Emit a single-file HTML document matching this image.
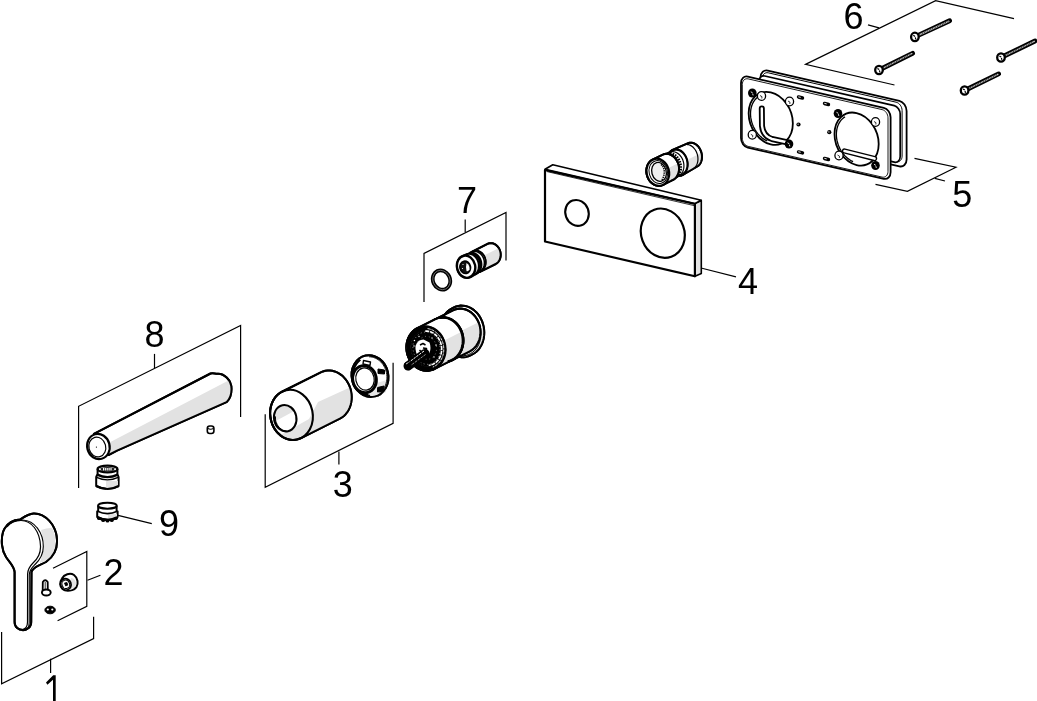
<!DOCTYPE html>
<html><head><meta charset="utf-8">
<style>
html,body{margin:0;padding:0;background:#fff;}
svg{display:block;}
text{font-family:"Liberation Sans",sans-serif;font-size:36px;fill:#000;}
</style></head>
<body>
<svg width="1037" height="701" viewBox="0 0 1037 701">
<rect width="1037" height="701" fill="#fff"/>
<g fill="none" stroke="#000" stroke-width="1.2" stroke-linecap="butt" stroke-linejoin="miter">
<polyline points="1014,18.6 935.6,0.7 805.5,64.4 894.5,85"/>
<line x1="868" y1="24.8" x2="879" y2="27.8"/>
<polyline points="914.5,158.3 956,167.2 907.4,191.3 875.5,184.3"/>
<line x1="934.8" y1="178.3" x2="945" y2="181"/>
<line x1="701" y1="268" x2="736" y2="276.8"/>
<polyline points="424,302 424,253.4 506,212.5 506,260.5"/>
<line x1="465.2" y1="219.4" x2="465.2" y2="232"/>
<polyline points="78.6,488 78.6,406.3 240.6,325.4 240.6,417"/>
<line x1="154.5" y1="353.9" x2="154.5" y2="368.2"/>
<polyline points="265.2,414.2 265.2,487.3 393.1,423.3 393.1,362.8"/>
<line x1="338.9" y1="451.5" x2="338.9" y2="464.6"/>
<line x1="116" y1="514.8" x2="151.8" y2="523.6"/>
<polyline points="53,568.3 86.8,551.4 86.8,606.4 57.6,620.8"/>
<line x1="87.5" y1="580.3" x2="100.4" y2="575.2"/>
<polyline points="1.6,632 1.6,683.8 93.6,638.6 93.6,616.8"/>
<line x1="50.6" y1="658.8" x2="50.6" y2="673"/>
</g>
<g style="will-change:transform">
<text x="843.5" y="28.5">6</text>
<text x="952.2" y="207">5</text>
<text x="738" y="293.5">4</text>
<text x="457" y="212.5">7</text>
<text x="144.4" y="346.8">8</text>
<text x="332.7" y="496.8">3</text>
<text x="159.1" y="536.3">9</text>
<text x="103.5" y="584.5">2</text>
</g>
<path d="M53,701 L53,679.8 L47.4,684.8 L46,682.4 L53.2,675.3 L55.7,675.3 L55.7,701 Z" fill="#000"/>
<line x1="914.9" y1="36.9" x2="949.6" y2="20.8" stroke="#000" stroke-width="4.8" stroke-linecap="round"/><line x1="917.4" y1="35.699999999999996" x2="948.8000000000001" y2="21.2" stroke="#c8c8c8" stroke-width="1.5" stroke-linecap="round"/><line x1="917.4" y1="35.699999999999996" x2="948.8000000000001" y2="21.2" stroke="#222" stroke-width="1.5" stroke-dasharray="0.8 1"/><ellipse cx="914.9" cy="36.9" rx="3.8" ry="4.2" fill="#fff" stroke="#000" stroke-width="2.3"/><path d="M913.3,35.3 l1.8,1.2 M915.3,37.3 l0.5,2" stroke="#000" stroke-width="1.2" fill="none"/>
<line x1="879" y1="70" x2="912.6" y2="53.3" stroke="#000" stroke-width="4.8" stroke-linecap="round"/><line x1="881.5" y1="68.8" x2="911.8000000000001" y2="53.699999999999996" stroke="#c8c8c8" stroke-width="1.5" stroke-linecap="round"/><line x1="881.5" y1="68.8" x2="911.8000000000001" y2="53.699999999999996" stroke="#222" stroke-width="1.5" stroke-dasharray="0.8 1"/><ellipse cx="879" cy="70" rx="3.8" ry="4.2" fill="#fff" stroke="#000" stroke-width="2.3"/><path d="M877.4,68.4 l1.8,1.2 M879.4,70.4 l0.5,2" stroke="#000" stroke-width="1.2" fill="none"/>
<line x1="1001" y1="57.5" x2="1035" y2="41" stroke="#000" stroke-width="4.8" stroke-linecap="round"/><line x1="1003.5" y1="56.3" x2="1034.2" y2="41.4" stroke="#c8c8c8" stroke-width="1.5" stroke-linecap="round"/><line x1="1003.5" y1="56.3" x2="1034.2" y2="41.4" stroke="#222" stroke-width="1.5" stroke-dasharray="0.8 1"/><ellipse cx="1001" cy="57.5" rx="3.8" ry="4.2" fill="#fff" stroke="#000" stroke-width="2.3"/><path d="M999.4,55.9 l1.8,1.2 M1001.4,57.9 l0.5,2" stroke="#000" stroke-width="1.2" fill="none"/>
<line x1="964.6" y1="90.5" x2="998.6" y2="73.9" stroke="#000" stroke-width="4.8" stroke-linecap="round"/><line x1="967.1" y1="89.3" x2="997.8000000000001" y2="74.30000000000001" stroke="#c8c8c8" stroke-width="1.5" stroke-linecap="round"/><line x1="967.1" y1="89.3" x2="997.8000000000001" y2="74.30000000000001" stroke="#222" stroke-width="1.5" stroke-dasharray="0.8 1"/><ellipse cx="964.6" cy="90.5" rx="3.8" ry="4.2" fill="#fff" stroke="#000" stroke-width="2.3"/><path d="M963.0,88.9 l1.8,1.2 M965.0,90.9 l0.5,2" stroke="#000" stroke-width="1.2" fill="none"/>
<g fill="#fff" stroke="#000" stroke-linejoin="round">
<path d="M767.8,70.6L899.4,100.8C903.3,101.7 906.6,106.3 906.6,111L906.6,159.5C906.6,164.2 903.3,167.2 899.4,166.3L767.8,136.1C763.8,135.2 760.5,130.7 760.5,126L760.5,77.5C760.5,72.8 763.8,69.7 767.8,70.6Z" stroke-width="1.8"/>
<path d="M768.2,72.8L896.1,102.2C899.4,102.9 902.1,106.7 902.1,110.6L902.1,156.1C902.1,159.9 899.4,162.4 896.1,161.7L768.2,132.3C764.9,131.6 762.2,127.8 762.2,124L762.2,78.5C762.2,74.6 764.9,72.1 768.2,72.8Z" stroke-width="1.0" fill="none"/>
<path d="M764.8,76L894.3,105.7C897.5,106.4 900.2,110.2 900.2,114L900.2,156.5C900.2,160.4 897.5,162.9 894.3,162.2L764.8,132.5C761.5,131.7 758.9,128 758.9,124.1L758.9,81.6C758.9,77.7 761.5,75.2 764.8,76Z" stroke-width="1.7"/>
<path d="M747.8,76.6L883.8,107.8C887.6,108.6 890.6,112.9 890.6,117.3L890.6,172.3C890.6,176.7 887.6,179.6 883.8,178.8L747.8,147.6C744,146.7 741,142.4 741,138L741,83C741,78.6 744,75.7 747.8,76.6Z" stroke-width="1.8"/>
<path d="M748.2,78.9L882.1,109.6C885.4,110.3 888,114.1 888,117.9L888,171.4C888,175.3 885.4,177.8 882.1,177.1L748.2,146.4C744.9,145.6 742.3,141.9 742.3,138L742.3,84.5C742.3,80.6 744.9,78.1 748.2,78.9Z" stroke-width="0.9" fill="none"/>
</g>
<g transform="matrix(0.85,0.195,0,1,741,75)" fill="none" stroke="#000" stroke-width="1.6" vector-effect="non-scaling-stroke">
<circle cx="35" cy="36.5" r="26" stroke-width="1.8" vector-effect="non-scaling-stroke"/>
<path d="M30.87,59.94 L28.84,59.49 L26.86,58.86 L24.94,58.07 L23.10,57.11 L21.35,56.00 L19.70,54.73 L18.17,53.33 L16.77,51.80 L15.50,50.15 L14.39,48.40 L13.43,46.56 L12.64,44.64 L12.01,42.66 L11.56,40.63 L11.29,38.57 L11.20,36.50 L11.29,34.43 L11.56,32.37 L12.01,30.34 L12.64,28.36 L13.43,26.44 L14.39,24.60 L15.50,22.85 L16.77,21.20 L18.17,19.67 L19.70,18.27 L21.35,17.00" stroke-width="1.3" vector-effect="non-scaling-stroke"/>
<circle cx="136" cy="37.5" r="26" stroke-width="1.8" vector-effect="non-scaling-stroke"/>
<path d="M131.87,60.94 L129.84,60.49 L127.86,59.86 L125.94,59.07 L124.10,58.11 L122.35,57.00 L120.70,55.73 L119.17,54.33 L117.77,52.80 L116.50,51.15 L115.39,49.40 L114.43,47.56 L113.64,45.64 L113.01,43.66 L112.56,41.63 L112.29,39.57 L112.20,37.50 L112.29,35.43 L112.56,33.37 L113.01,31.34 L113.64,29.36 L114.43,27.44 L115.39,25.60 L116.50,23.85 L117.77,22.20 L119.17,20.67 L120.70,19.27 L122.35,18.00" stroke-width="1.3" vector-effect="non-scaling-stroke"/>
</g>
<path d="M761.8,108.5 L762,126 Q763,136 772,139 L788,142.5" fill="none" stroke="#000" stroke-width="6" stroke-linecap="round" stroke-linejoin="round"/>
<path d="M761.8,108.5 L762,126 Q763,136 772,139 L788,142.5" fill="none" stroke="#fff" stroke-width="2.4" stroke-linecap="round" stroke-linejoin="round"/>
<path d="M844.5,151 L874.5,158.6" fill="none" stroke="#000" stroke-width="5.4" stroke-linecap="round"/>
<path d="M844.5,151 L874.5,158.6" fill="none" stroke="#fff" stroke-width="2.6" stroke-linecap="round"/>
<ellipse cx="752.3" cy="93" rx="4.3" ry="4.6" fill="#000"/>
<path d="M750.8,91.8 l1.8,1 M752.6999999999999,93.7 l0.4,1.7" stroke="#fff" stroke-width="0.9"/>
<ellipse cx="789" cy="144" rx="4.3" ry="4.6" fill="#000"/>
<path d="M787.5,142.8 l1.8,1 M789.4,144.7 l0.4,1.7" stroke="#fff" stroke-width="0.9"/>
<ellipse cx="838" cy="113.5" rx="4.3" ry="4.6" fill="#000"/>
<path d="M836.5,112.3 l1.8,1 M838.4,114.2 l0.4,1.7" stroke="#fff" stroke-width="0.9"/>
<ellipse cx="875.5" cy="165.5" rx="4.3" ry="4.6" fill="#000"/>
<path d="M874.0,164.3 l1.8,1 M875.9,166.2 l0.4,1.7" stroke="#fff" stroke-width="0.9"/>
<ellipse cx="761.5" cy="96" rx="4.1" ry="4.4" fill="#fff" stroke="#000" stroke-width="1.3"/>
<path d="M760.0,95.5 l2,1.2 l-0.2,1.8" stroke="#000" stroke-width="0.8" fill="none"/>
<ellipse cx="789.5" cy="101.5" rx="4.1" ry="4.4" fill="#fff" stroke="#000" stroke-width="1.3"/>
<path d="M788.0,101.0 l2,1.2 l-0.2,1.8" stroke="#000" stroke-width="0.8" fill="none"/>
<ellipse cx="752.3" cy="134.8" rx="4.1" ry="4.4" fill="#fff" stroke="#000" stroke-width="1.3"/>
<path d="M750.8,134.3 l2,1.2 l-0.2,1.8" stroke="#000" stroke-width="0.8" fill="none"/>
<ellipse cx="875.5" cy="122" rx="4.1" ry="4.4" fill="#fff" stroke="#000" stroke-width="1.3"/>
<path d="M874.0,121.5 l2,1.2 l-0.2,1.8" stroke="#000" stroke-width="0.8" fill="none"/>
<ellipse cx="839" cy="155.5" rx="4.1" ry="4.4" fill="#fff" stroke="#000" stroke-width="1.3"/>
<path d="M837.5,155.0 l2,1.2 l-0.2,1.8" stroke="#000" stroke-width="0.8" fill="none"/>
<line x1="798.5" y1="97.0" x2="802.5" y2="98.0" stroke="#000" stroke-width="3.4" stroke-linecap="round"/>
<line x1="798.7" y1="96.9" x2="800.3" y2="97.3" stroke="#fff" stroke-width="0.9" stroke-linecap="round"/>
<line x1="824.5" y1="103.5" x2="828.5" y2="104.5" stroke="#000" stroke-width="3.4" stroke-linecap="round"/>
<line x1="824.7" y1="103.4" x2="826.3" y2="103.8" stroke="#fff" stroke-width="0.9" stroke-linecap="round"/>
<line x1="798.5" y1="151.9" x2="802.5" y2="152.9" stroke="#000" stroke-width="3.4" stroke-linecap="round"/>
<line x1="798.7" y1="151.8" x2="800.3" y2="152.20000000000002" stroke="#fff" stroke-width="0.9" stroke-linecap="round"/>
<line x1="824.5" y1="158.5" x2="828.5" y2="159.5" stroke="#000" stroke-width="3.4" stroke-linecap="round"/>
<line x1="824.7" y1="158.4" x2="826.3" y2="158.8" stroke="#fff" stroke-width="0.9" stroke-linecap="round"/>
<circle cx="798.5" cy="124.5" r="2.1" fill="#000"/>
<circle cx="798.1" cy="124.2" r="0.6" fill="#fff"/>
<circle cx="829.3" cy="132.2" r="2.1" fill="#000"/>
<circle cx="828.9" cy="131.89999999999998" r="0.6" fill="#fff"/>
<g stroke="#000" stroke-linejoin="round">
<polygon points="694.9,203.5 701.3,200.6 701.3,273.5 695,276.3" fill="#e3e3e3" stroke-width="1.6"/>
<polygon points="545,169.3 552.8,164.7 701.3,200.3 694.9,203.5" fill="#fff" stroke-width="1.6"/>
<path d="M545,170 L694.9,204 L694.9,276.3 L545,241.5 Z" fill="#fff" stroke-width="2.2"/>
<line x1="547" y1="171.6" x2="694" y2="205.6" stroke-width="0.8"/>
<ellipse cx="577" cy="212.9" rx="11.6" ry="13.1" transform="rotate(-20 577 212.9)" fill="none" stroke-width="2.1"/>
<ellipse cx="662.8" cy="233.2" rx="21.6" ry="25" transform="rotate(-20 662.8 233.2)" fill="none" stroke-width="2.2"/>
</g>
<g stroke="#000" stroke-linejoin="round">
<path d="M687.63,143.42 L688.62,143.02 L689.66,142.77 L690.72,142.67 L691.81,142.74 L692.90,142.95 L693.99,143.32 L695.05,143.84 L696.07,144.50 L697.05,145.29 L697.97,146.21 L698.81,147.23 L699.57,148.36 L700.24,149.57 L700.81,150.85 L701.27,152.18 L701.61,153.55 L701.84,154.94 L701.95,156.33 L701.93,157.71 L701.80,159.05 L701.54,160.34 L701.16,161.57 L700.68,162.71 L700.08,163.76 L699.39,164.70 L698.61,165.52 L697.74,166.21 L696.81,166.76 L682.39,175.07 L681.34,175.50 L680.25,175.76 L679.13,175.85 L677.98,175.78 L676.83,175.54 L675.68,175.14 L674.56,174.57 L673.48,173.85 L672.44,172.99 L671.47,172.00 L670.57,170.89 L669.76,169.67 L669.05,168.36 L668.44,166.98 L667.95,165.54 L667.57,164.06 L667.32,162.56 L667.20,161.06 L667.21,159.58 L667.34,158.14 L667.61,156.74 L667.99,155.43 L668.50,154.19 L669.12,153.07 L669.84,152.06 L670.66,151.18 L671.57,150.45 L672.55,149.86Z" fill="#fff" stroke-width="2"/>
<clipPath id="c1"><path d="M687.63,143.42 L688.62,143.02 L689.66,142.77 L690.72,142.67 L691.81,142.74 L692.90,142.95 L693.99,143.32 L695.05,143.84 L696.07,144.50 L697.05,145.29 L697.97,146.21 L698.81,147.23 L699.57,148.36 L700.24,149.57 L700.81,150.85 L701.27,152.18 L701.61,153.55 L701.84,154.94 L701.95,156.33 L701.93,157.71 L701.80,159.05 L701.54,160.34 L701.16,161.57 L700.68,162.71 L700.08,163.76 L699.39,164.70 L698.61,165.52 L697.74,166.21 L696.81,166.76 L682.39,175.07 L681.34,175.50 L680.25,175.76 L679.13,175.85 L677.98,175.78 L676.83,175.54 L675.68,175.14 L674.56,174.57 L673.48,173.85 L672.44,172.99 L671.47,172.00 L670.57,170.89 L669.76,169.67 L669.05,168.36 L668.44,166.98 L667.95,165.54 L667.57,164.06 L667.32,162.56 L667.20,161.06 L667.21,159.58 L667.34,158.14 L667.61,156.74 L667.99,155.43 L668.50,154.19 L669.12,153.07 L669.84,152.06 L670.66,151.18 L671.57,150.45 L672.55,149.86Z"/></clipPath><polygon clip-path="url(#c1)" fill="#e2e2e2" stroke="none" points="606.8,200.0 749.9,128.5 785.7,200.0 642.6,271.6"/>
<path d="M687.63,143.42 L688.62,143.02 L689.66,142.77 L690.72,142.67 L691.81,142.74 L692.90,142.95 L693.99,143.32 L695.05,143.84 L696.07,144.50 L697.05,145.29 L697.97,146.21 L698.81,147.23 L699.57,148.36 L700.24,149.57 L700.81,150.85 L701.27,152.18 L701.61,153.55 L701.84,154.94 L701.95,156.33 L701.93,157.71 L701.80,159.05 L701.54,160.34 L701.16,161.57 L700.68,162.71 L700.08,163.76 L699.39,164.70 L698.61,165.52 L697.74,166.21 L696.81,166.76 L682.39,175.07 L681.34,175.50 L680.25,175.76 L679.13,175.85 L677.98,175.78 L676.83,175.54 L675.68,175.14 L674.56,174.57 L673.48,173.85 L672.44,172.99 L671.47,172.00 L670.57,170.89 L669.76,169.67 L669.05,168.36 L668.44,166.98 L667.95,165.54 L667.57,164.06 L667.32,162.56 L667.20,161.06 L667.21,159.58 L667.34,158.14 L667.61,156.74 L667.99,155.43 L668.50,154.19 L669.12,153.07 L669.84,152.06 L670.66,151.18 L671.57,150.45 L672.55,149.86Z" fill="none" stroke-width="2"/>
<path d="M686.53,144.50 L687.49,144.53 L688.46,144.69 L689.43,144.98 L690.39,145.38 L691.33,145.90 L692.23,146.53 L693.10,147.27 L693.91,148.11 L694.67,149.03 L695.36,150.03 L695.99,151.11 L696.53,152.24 L697.00,153.42 L697.37,154.64 L697.66,155.89 L697.85,157.14 L697.94,158.40 L697.94,159.64 L697.84,160.86 L697.64,162.04 L697.35,163.17 L696.97,164.24 L696.51,165.24 L695.96,166.15 L695.33,166.98 L694.63,167.71 L693.87,168.34 L693.05,168.85" fill="none" stroke-width="1.2"/>
<path d="M672.73,150.64 L673.75,150.22 L674.82,149.96 L675.92,149.85 L677.03,149.90 L678.16,150.10 L679.27,150.47 L680.37,150.98 L681.42,151.64 L682.43,152.43 L683.38,153.35 L684.25,154.39 L685.03,155.53 L685.72,156.75 L686.31,158.05 L686.78,159.40 L687.14,160.79 L687.38,162.20 L687.49,163.61 L687.47,165.01 L687.33,166.38 L687.07,167.70 L686.68,168.95 L686.18,170.12 L685.57,171.20 L684.86,172.17 L684.05,173.01 L683.17,173.72 L682.21,174.29 L672.37,179.21 L671.35,179.63 L670.29,179.89 L669.19,180.00 L668.07,179.95 L666.94,179.74 L665.83,179.38 L664.73,178.87 L663.68,178.21 L662.67,177.41 L661.73,176.49 L660.86,175.46 L660.07,174.32 L659.38,173.10 L658.79,171.80 L658.32,170.45 L657.96,169.06 L657.73,167.65 L657.61,166.24 L657.63,164.84 L657.77,163.47 L658.03,162.15 L658.42,160.90 L658.92,159.72 L659.53,158.65 L660.24,157.68 L661.05,156.84 L661.94,156.13 L662.90,155.56Z" fill="#fff" stroke-width="1.8"/>
<path d="M667.45,153.45 L668.53,153.25 L669.64,153.20 L670.76,153.31 L671.89,153.58 L672.99,154.00 L674.07,154.57 L675.11,155.28 L676.10,156.13 L677.02,157.09 L677.85,158.17 L678.60,159.34 L679.25,160.59 L679.80,161.91 L680.23,163.28 L680.54,164.68 L680.73,166.10 L680.79,167.51 L680.73,168.90 L680.54,170.25 L680.23,171.54 L679.80,172.77 L679.26,173.90 L678.60,174.94 L677.85,175.86 L677.02,176.65 L676.10,177.31 L675.11,177.82 L674.08,178.18" fill="none" stroke-width="2.6" stroke-dasharray="1.6 1"/>
<path d="M670.58,151.89 L671.66,151.68 L672.77,151.64 L673.89,151.75 L675.01,152.01 L676.12,152.44 L677.20,153.01 L678.24,153.72 L679.23,154.56 L680.14,155.53 L680.98,156.60 L681.73,157.78 L682.38,159.03 L682.93,160.35 L683.36,161.72 L683.67,163.12 L683.86,164.53 L683.92,165.94 L683.86,167.33 L683.67,168.68 L683.36,169.98 L682.93,171.20 L682.38,172.34 L681.73,173.37 L680.98,174.29 L680.15,175.09 L679.23,175.74 L678.24,176.26 L677.20,176.62" fill="none" stroke-width="1.2"/>
<path d="M673.95,149.33 L675.05,149.12 L676.19,149.08 L677.34,149.21 L678.49,149.51 L679.63,149.97 L680.74,150.58 L681.81,151.35 L682.83,152.25 L683.77,153.29 L684.64,154.43 L685.42,155.68 L686.10,157.02 L686.67,158.42 L687.13,159.88 L687.46,161.36 L687.67,162.87 L687.75,164.36 L687.70,165.83 L687.52,167.26 L687.21,168.63 L686.79,169.92 L686.24,171.12 L685.59,172.21 L684.83,173.18 L683.98,174.01 L683.05,174.70 L682.05,175.23 L680.99,175.60" fill="none" stroke-width="1.8"/>
<path d="M662.35,154.81 L663.51,154.32 L664.73,154.00 L665.98,153.85 L667.25,153.87 L668.53,154.05 L669.79,154.41 L671.03,154.93 L672.23,155.60 L673.36,156.42 L674.43,157.38 L675.41,158.47 L676.29,159.67 L677.06,160.96 L677.72,162.34 L678.25,163.78 L678.64,165.26 L678.90,166.78 L679.01,168.30 L678.98,169.80 L678.81,171.28 L678.50,172.71 L678.05,174.07 L677.47,175.35 L676.77,176.52 L675.95,177.59 L675.03,178.52 L674.01,179.31 L672.92,179.96 L663.08,184.87 L661.92,185.36 L660.71,185.68 L659.45,185.83 L658.18,185.82 L656.91,185.63 L655.64,185.27 L654.40,184.76 L653.21,184.08 L652.07,183.26 L651.01,182.30 L650.03,181.21 L649.14,180.01 L648.37,178.72 L647.71,177.34 L647.19,175.90 L646.79,174.42 L646.54,172.91 L646.42,171.39 L646.45,169.88 L646.62,168.40 L646.93,166.97 L647.38,165.61 L647.96,164.34 L648.67,163.16 L649.48,162.10 L650.41,161.16 L651.42,160.37 L652.52,159.73Z" fill="#fff" stroke-width="2"/>
<clipPath id="c2"><path d="M662.35,154.81 L663.51,154.32 L664.73,154.00 L665.98,153.85 L667.25,153.87 L668.53,154.05 L669.79,154.41 L671.03,154.93 L672.23,155.60 L673.36,156.42 L674.43,157.38 L675.41,158.47 L676.29,159.67 L677.06,160.96 L677.72,162.34 L678.25,163.78 L678.64,165.26 L678.90,166.78 L679.01,168.30 L678.98,169.80 L678.81,171.28 L678.50,172.71 L678.05,174.07 L677.47,175.35 L676.77,176.52 L675.95,177.59 L675.03,178.52 L674.01,179.31 L672.92,179.96 L663.08,184.87 L661.92,185.36 L660.71,185.68 L659.45,185.83 L658.18,185.82 L656.91,185.63 L655.64,185.27 L654.40,184.76 L653.21,184.08 L652.07,183.26 L651.01,182.30 L650.03,181.21 L649.14,180.01 L648.37,178.72 L647.71,177.34 L647.19,175.90 L646.79,174.42 L646.54,172.91 L646.42,171.39 L646.45,169.88 L646.62,168.40 L646.93,166.97 L647.38,165.61 L647.96,164.34 L648.67,163.16 L649.48,162.10 L650.41,161.16 L651.42,160.37 L652.52,159.73Z"/></clipPath><polygon clip-path="url(#c2)" fill="#e2e2e2" stroke="none" points="586.7,209.0 729.8,137.4 765.6,209.0 622.5,280.5"/>
<path d="M662.35,154.81 L663.51,154.32 L664.73,154.00 L665.98,153.85 L667.25,153.87 L668.53,154.05 L669.79,154.41 L671.03,154.93 L672.23,155.60 L673.36,156.42 L674.43,157.38 L675.41,158.47 L676.29,159.67 L677.06,160.96 L677.72,162.34 L678.25,163.78 L678.64,165.26 L678.90,166.78 L679.01,168.30 L678.98,169.80 L678.81,171.28 L678.50,172.71 L678.05,174.07 L677.47,175.35 L676.77,176.52 L675.95,177.59 L675.03,178.52 L674.01,179.31 L672.92,179.96 L663.08,184.87 L661.92,185.36 L660.71,185.68 L659.45,185.83 L658.18,185.82 L656.91,185.63 L655.64,185.27 L654.40,184.76 L653.21,184.08 L652.07,183.26 L651.01,182.30 L650.03,181.21 L649.14,180.01 L648.37,178.72 L647.71,177.34 L647.19,175.90 L646.79,174.42 L646.54,172.91 L646.42,171.39 L646.45,169.88 L646.62,168.40 L646.93,166.97 L647.38,165.61 L647.96,164.34 L648.67,163.16 L649.48,162.10 L650.41,161.16 L651.42,160.37 L652.52,159.73Z" fill="none" stroke-width="2"/>
<path d="M664.09,154.15 L665.32,153.91 L666.58,153.84 L667.86,153.94 L669.13,154.20 L670.39,154.64 L671.61,155.23 L672.78,155.98 L673.88,156.87 L674.91,157.89 L675.84,159.03 L676.67,160.28 L677.39,161.61 L677.99,163.02 L678.45,164.48 L678.78,165.98 L678.97,167.50 L679.02,169.02 L678.92,170.51 L678.68,171.97 L678.30,173.37 L677.79,174.69 L677.15,175.92 L676.39,177.05 L675.52,178.05 L674.55,178.92 L673.50,179.64 L672.37,180.21 L671.18,180.62" fill="none" stroke-width="1.6"/>
<ellipse cx="657.80" cy="172.30" rx="11.2" ry="13.7" transform="rotate(-15 657.80 172.30)" fill="#fff" stroke-width="2.2"/>
<ellipse cx="658.30" cy="172.10" rx="9.2" ry="11.6" transform="rotate(-15 658.30 172.10)" fill="none" stroke-width="1"/>
<ellipse cx="659.00" cy="171.90" rx="7.2" ry="9.6" transform="rotate(-15 659.00 171.90)" fill="#f0f0f0" stroke-width="1.3"/>
<path d="M661,164.5 C665.5,168 665,176 661.5,180.5" fill="none" stroke-width="1.5" stroke-dasharray="1.3 0.9"/>
</g>
<g stroke="#000" fill="none">
<ellipse cx="441.50" cy="280.00" rx="8.5" ry="9.9" transform="rotate(-25 441.50 280.00)" stroke-width="3.8"/>
<ellipse cx="441.50" cy="280.00" rx="8.5" ry="9.9" transform="rotate(-25 441.50 280.00)" stroke="#bbb" stroke-width="0.5"/>
</g>
<g stroke="#000" stroke-linejoin="round">
<path d="M487.52,243.93 L488.45,243.54 L489.43,243.28 L490.43,243.15 L491.45,243.16 L492.47,243.30 L493.47,243.58 L494.46,243.99 L495.40,244.53 L496.30,245.18 L497.14,245.94 L497.91,246.81 L498.60,247.76 L499.21,248.80 L499.71,249.89 L500.11,251.04 L500.41,252.23 L500.60,253.44 L500.67,254.65 L500.63,255.86 L500.47,257.04 L500.20,258.18 L499.83,259.27 L499.35,260.29 L498.77,261.23 L498.10,262.09 L497.35,262.84 L496.53,263.47 L495.64,263.99 L480.89,271.37 L479.95,271.76 L478.98,272.02 L477.98,272.15 L476.96,272.14 L475.94,271.99 L474.93,271.71 L473.95,271.30 L473.00,270.77 L472.10,270.12 L471.26,269.35 L470.49,268.49 L469.80,267.53 L469.20,266.50 L468.70,265.40 L468.29,264.25 L468.00,263.07 L467.81,261.86 L467.74,260.65 L467.78,259.44 L467.94,258.26 L468.21,257.12 L468.58,256.03 L469.06,255.00 L469.64,254.06 L470.31,253.21 L471.06,252.46 L471.88,251.82 L472.77,251.30Z" fill="#fff" stroke-width="2"/>
<clipPath id="c3"><path d="M487.52,243.93 L488.45,243.54 L489.43,243.28 L490.43,243.15 L491.45,243.16 L492.47,243.30 L493.47,243.58 L494.46,243.99 L495.40,244.53 L496.30,245.18 L497.14,245.94 L497.91,246.81 L498.60,247.76 L499.21,248.80 L499.71,249.89 L500.11,251.04 L500.41,252.23 L500.60,253.44 L500.67,254.65 L500.63,255.86 L500.47,257.04 L500.20,258.18 L499.83,259.27 L499.35,260.29 L498.77,261.23 L498.10,262.09 L497.35,262.84 L496.53,263.47 L495.64,263.99 L480.89,271.37 L479.95,271.76 L478.98,272.02 L477.98,272.15 L476.96,272.14 L475.94,271.99 L474.93,271.71 L473.95,271.30 L473.00,270.77 L472.10,270.12 L471.26,269.35 L470.49,268.49 L469.80,267.53 L469.20,266.50 L468.70,265.40 L468.29,264.25 L468.00,263.07 L467.81,261.86 L467.74,260.65 L467.78,259.44 L467.94,258.26 L468.21,257.12 L468.58,256.03 L469.06,255.00 L469.64,254.06 L470.31,253.21 L471.06,252.46 L471.88,251.82 L472.77,251.30Z"/></clipPath><polygon clip-path="url(#c3)" fill="#e2e2e2" stroke="none" points="404.4,295.3 547.5,223.8 583.3,295.3 440.2,366.9"/>
<path d="M487.52,243.93 L488.45,243.54 L489.43,243.28 L490.43,243.15 L491.45,243.16 L492.47,243.30 L493.47,243.58 L494.46,243.99 L495.40,244.53 L496.30,245.18 L497.14,245.94 L497.91,246.81 L498.60,247.76 L499.21,248.80 L499.71,249.89 L500.11,251.04 L500.41,252.23 L500.60,253.44 L500.67,254.65 L500.63,255.86 L500.47,257.04 L500.20,258.18 L499.83,259.27 L499.35,260.29 L498.77,261.23 L498.10,262.09 L497.35,262.84 L496.53,263.47 L495.64,263.99 L480.89,271.37 L479.95,271.76 L478.98,272.02 L477.98,272.15 L476.96,272.14 L475.94,271.99 L474.93,271.71 L473.95,271.30 L473.00,270.77 L472.10,270.12 L471.26,269.35 L470.49,268.49 L469.80,267.53 L469.20,266.50 L468.70,265.40 L468.29,264.25 L468.00,263.07 L467.81,261.86 L467.74,260.65 L467.78,259.44 L467.94,258.26 L468.21,257.12 L468.58,256.03 L469.06,255.00 L469.64,254.06 L470.31,253.21 L471.06,252.46 L471.88,251.82 L472.77,251.30Z" fill="none" stroke-width="2"/>
<path d="M472.86,251.59 L473.77,251.20 L474.73,250.95 L475.71,250.82 L476.70,250.83 L477.70,250.97 L478.68,251.24 L479.64,251.63 L480.57,252.15 L481.45,252.78 L482.27,253.52 L483.02,254.36 L483.69,255.29 L484.28,256.29 L484.78,257.36 L485.17,258.48 L485.46,259.63 L485.64,260.80 L485.71,261.99 L485.67,263.16 L485.52,264.31 L485.26,265.42 L484.89,266.48 L484.42,267.48 L483.85,268.40 L483.20,269.23 L482.47,269.96 L481.66,270.58 L480.80,271.09 L473.65,274.66 L472.73,275.05 L471.78,275.30 L470.80,275.43 L469.80,275.42 L468.81,275.28 L467.82,275.01 L466.86,274.62 L465.94,274.10 L465.06,273.46 L464.24,272.72 L463.48,271.88 L462.81,270.96 L462.22,269.95 L461.73,268.89 L461.33,267.77 L461.04,266.62 L460.86,265.44 L460.79,264.26 L460.83,263.09 L460.99,261.94 L461.25,260.83 L461.62,259.77 L462.09,258.77 L462.65,257.85 L463.30,257.02 L464.04,256.29 L464.84,255.67 L465.71,255.16Z" fill="#fff" stroke-width="1.8"/>
<path d="M469.71,253.43 L470.68,253.29 L471.68,253.28 L472.67,253.40 L473.66,253.66 L474.62,254.04 L475.55,254.55 L476.44,255.17 L477.27,255.90 L478.03,256.73 L478.71,257.65 L479.31,258.64 L479.81,259.70 L480.22,260.82 L480.52,261.96 L480.71,263.14 L480.79,264.32 L480.76,265.49 L480.62,266.64 L480.37,267.76 L480.01,268.83 L479.56,269.83 L479.00,270.76 L478.36,271.60 L477.63,272.34 L476.83,272.98 L475.98,273.50 L475.06,273.89 L474.11,274.16" fill="none" stroke-width="3.2"/>
<path d="M473.28,251.64 L474.26,251.50 L475.25,251.49 L476.25,251.62 L477.24,251.87 L478.20,252.25 L479.13,252.76 L480.02,253.38 L480.84,254.11 L481.60,254.94 L482.29,255.86 L482.88,256.86 L483.39,257.92 L483.79,259.03 L484.09,260.18 L484.29,261.35 L484.37,262.53 L484.34,263.70 L484.20,264.86 L483.95,265.97 L483.59,267.04 L483.13,268.04 L482.58,268.97 L481.93,269.81 L481.21,270.55 L480.41,271.19 L479.55,271.71 L478.64,272.10 L477.69,272.37" fill="none" stroke-width="1.5"/>
<path d="M474.56,250.67 L475.56,250.53 L476.58,250.53 L477.60,250.65 L478.61,250.92 L479.59,251.31 L480.54,251.83 L481.45,252.47 L482.30,253.23 L483.08,254.08 L483.78,255.02 L484.39,256.05 L484.91,257.14 L485.32,258.28 L485.63,259.46 L485.83,260.67 L485.91,261.88 L485.89,263.09 L485.74,264.28 L485.49,265.42 L485.12,266.52 L484.66,267.55 L484.09,268.51 L483.43,269.37 L482.69,270.13 L481.87,270.78 L481.00,271.31 L480.07,271.72 L479.09,272.00" fill="none" stroke-width="1.2"/>
<path d="M465.56,254.58 L466.51,254.19 L467.49,253.93 L468.51,253.80 L469.54,253.82 L470.57,253.98 L471.59,254.27 L472.58,254.70 L473.54,255.26 L474.45,255.93 L475.30,256.72 L476.08,257.62 L476.78,258.60 L477.39,259.67 L477.90,260.80 L478.31,261.98 L478.61,263.20 L478.80,264.44 L478.88,265.69 L478.83,266.92 L478.68,268.13 L478.41,269.31 L478.02,270.42 L477.54,271.47 L476.96,272.43 L476.28,273.30 L475.52,274.07 L474.69,274.71 L473.79,275.24 L470.22,277.03 L469.27,277.42 L468.28,277.68 L467.27,277.81 L466.24,277.79 L465.21,277.63 L464.19,277.34 L463.19,276.91 L462.23,276.36 L461.32,275.68 L460.47,274.89 L459.69,273.99 L458.99,273.01 L458.38,271.94 L457.87,270.81 L457.46,269.63 L457.16,268.41 L456.97,267.17 L456.90,265.93 L456.94,264.69 L457.10,263.48 L457.37,262.31 L457.75,261.19 L458.24,260.14 L458.82,259.18 L459.50,258.31 L460.26,257.55 L461.09,256.90 L461.98,256.37Z" fill="#fff" stroke-width="2"/>
<ellipse cx="466.10" cy="266.70" rx="9.1" ry="11.2" transform="rotate(-12 466.10 266.70)" fill="#fff" stroke-width="2.4"/>
<ellipse cx="465.20" cy="267.30" rx="5.3" ry="6.2" transform="rotate(-12 465.20 267.30)" fill="#111" stroke-width="1.6"/>
<path d="M466.5,263 Q470,265 469.5,269.5 Q468,272 466.5,271 Q465.5,267 466.5,263 Z" fill="#fff" stroke="none"/>
<circle cx="463" cy="264.5" r="0.6" fill="#fff" stroke="none"/><circle cx="462.5" cy="268.5" r="0.6" fill="#fff" stroke="none"/>
</g>
<g stroke="#000" stroke-linejoin="round">
<path d="M453.88,307.43 L456.07,306.51 L458.35,305.90 L460.68,305.60 L463.05,305.63 L465.42,305.97 L467.76,306.62 L470.04,307.59 L472.23,308.84 L474.31,310.38 L476.25,312.17 L478.02,314.20 L479.61,316.44 L480.98,318.86 L482.13,321.43 L483.05,324.13 L483.71,326.91 L484.11,329.74 L484.25,332.58 L484.12,335.41 L483.73,338.18 L483.08,340.85 L482.18,343.41 L481.04,345.80 L479.67,348.01 L478.09,350.01 L476.33,351.77 L474.40,353.26 L472.32,354.47 L470.53,355.37 L468.35,356.28 L466.07,356.90 L463.73,357.19 L461.36,357.17 L458.99,356.82 L456.66,356.17 L454.37,355.21 L452.18,353.95 L450.10,352.42 L448.17,350.62 L446.39,348.60 L444.81,346.36 L443.43,343.93 L442.28,341.36 L441.37,338.67 L440.70,335.89 L440.30,333.06 L440.16,330.21 L440.29,327.39 L440.68,324.62 L441.33,321.94 L442.24,319.39 L443.38,316.99 L444.75,314.78 L446.32,312.78 L448.09,311.03 L450.02,309.53 L452.09,308.32Z" fill="#fff" stroke-width="2"/>
<clipPath id="c4"><path d="M453.88,307.43 L456.07,306.51 L458.35,305.90 L460.68,305.60 L463.05,305.63 L465.42,305.97 L467.76,306.62 L470.04,307.59 L472.23,308.84 L474.31,310.38 L476.25,312.17 L478.02,314.20 L479.61,316.44 L480.98,318.86 L482.13,321.43 L483.05,324.13 L483.71,326.91 L484.11,329.74 L484.25,332.58 L484.12,335.41 L483.73,338.18 L483.08,340.85 L482.18,343.41 L481.04,345.80 L479.67,348.01 L478.09,350.01 L476.33,351.77 L474.40,353.26 L472.32,354.47 L470.53,355.37 L468.35,356.28 L466.07,356.90 L463.73,357.19 L461.36,357.17 L458.99,356.82 L456.66,356.17 L454.37,355.21 L452.18,353.95 L450.10,352.42 L448.17,350.62 L446.39,348.60 L444.81,346.36 L443.43,343.93 L442.28,341.36 L441.37,338.67 L440.70,335.89 L440.30,333.06 L440.16,330.21 L440.29,327.39 L440.68,324.62 L441.33,321.94 L442.24,319.39 L443.38,316.99 L444.75,314.78 L446.32,312.78 L448.09,311.03 L450.02,309.53 L452.09,308.32Z"/></clipPath><polygon clip-path="url(#c4)" fill="#e2e2e2" stroke="none" points="391.5,371.2 534.7,299.6 570.4,371.2 427.3,442.8"/>
<path d="M453.88,307.43 L456.07,306.51 L458.35,305.90 L460.68,305.60 L463.05,305.63 L465.42,305.97 L467.76,306.62 L470.04,307.59 L472.23,308.84 L474.31,310.38 L476.25,312.17 L478.02,314.20 L479.61,316.44 L480.98,318.86 L482.13,321.43 L483.05,324.13 L483.71,326.91 L484.11,329.74 L484.25,332.58 L484.12,335.41 L483.73,338.18 L483.08,340.85 L482.18,343.41 L481.04,345.80 L479.67,348.01 L478.09,350.01 L476.33,351.77 L474.40,353.26 L472.32,354.47 L470.53,355.37 L468.35,356.28 L466.07,356.90 L463.73,357.19 L461.36,357.17 L458.99,356.82 L456.66,356.17 L454.37,355.21 L452.18,353.95 L450.10,352.42 L448.17,350.62 L446.39,348.60 L444.81,346.36 L443.43,343.93 L442.28,341.36 L441.37,338.67 L440.70,335.89 L440.30,333.06 L440.16,330.21 L440.29,327.39 L440.68,324.62 L441.33,321.94 L442.24,319.39 L443.38,316.99 L444.75,314.78 L446.32,312.78 L448.09,311.03 L450.02,309.53 L452.09,308.32Z" fill="none" stroke-width="2"/>
<path d="M455.48,308.59 L457.75,308.11 L460.07,307.96 L462.41,308.15 L464.73,308.67 L467.00,309.51 L469.20,310.67 L471.28,312.12 L473.23,313.85 L475.00,315.83 L476.59,318.03 L477.96,320.43 L479.10,322.99 L479.99,325.67 L480.62,328.44 L480.97,331.26 L481.05,334.08 L480.86,336.87 L480.39,339.60 L479.65,342.21 L478.66,344.68 L477.43,346.97 L475.96,349.05 L474.30,350.88 L472.45,352.45 L470.44,353.73 L468.31,354.71 L466.08,355.36 L463.78,355.69" fill="none" stroke-width="1"/>
<path d="M452.96,310.37 L454.94,309.53 L457.00,308.97 L459.11,308.68 L461.25,308.67 L463.39,308.93 L465.50,309.48 L467.56,310.29 L469.54,311.36 L471.42,312.67 L473.17,314.22 L474.78,315.97 L476.21,317.91 L477.46,320.01 L478.50,322.25 L479.33,324.60 L479.93,327.02 L480.29,329.50 L480.42,331.99 L480.31,334.46 L479.96,336.89 L479.37,339.25 L478.56,341.50 L477.53,343.61 L476.29,345.56 L474.87,347.33 L473.28,348.90 L471.54,350.23 L469.66,351.32 L452.23,360.04 L450.25,360.87 L448.20,361.44 L446.09,361.73 L443.95,361.74 L441.81,361.47 L439.69,360.93 L437.63,360.12 L435.65,359.05 L433.77,357.73 L432.02,356.19 L430.42,354.43 L428.98,352.49 L427.74,350.39 L426.69,348.15 L425.87,345.81 L425.27,343.38 L424.90,340.91 L424.77,338.42 L424.88,335.94 L425.24,333.51 L425.82,331.16 L426.64,328.91 L427.67,326.79 L428.90,324.84 L430.32,323.07 L431.91,321.51 L433.66,320.17 L435.53,319.08Z" fill="#fff" stroke-width="2"/>
<clipPath id="c5"><path d="M452.96,310.37 L454.94,309.53 L457.00,308.97 L459.11,308.68 L461.25,308.67 L463.39,308.93 L465.50,309.48 L467.56,310.29 L469.54,311.36 L471.42,312.67 L473.17,314.22 L474.78,315.97 L476.21,317.91 L477.46,320.01 L478.50,322.25 L479.33,324.60 L479.93,327.02 L480.29,329.50 L480.42,331.99 L480.31,334.46 L479.96,336.89 L479.37,339.25 L478.56,341.50 L477.53,343.61 L476.29,345.56 L474.87,347.33 L473.28,348.90 L471.54,350.23 L469.66,351.32 L452.23,360.04 L450.25,360.87 L448.20,361.44 L446.09,361.73 L443.95,361.74 L441.81,361.47 L439.69,360.93 L437.63,360.12 L435.65,359.05 L433.77,357.73 L432.02,356.19 L430.42,354.43 L428.98,352.49 L427.74,350.39 L426.69,348.15 L425.87,345.81 L425.27,343.38 L424.90,340.91 L424.77,338.42 L424.88,335.94 L425.24,333.51 L425.82,331.16 L426.64,328.91 L427.67,326.79 L428.90,324.84 L430.32,323.07 L431.91,321.51 L433.66,320.17 L435.53,319.08Z"/></clipPath><polygon clip-path="url(#c5)" fill="#e2e2e2" stroke="none" points="372.3,375.3 515.4,303.8 551.2,375.3 408.1,446.9"/>
<path d="M452.96,310.37 L454.94,309.53 L457.00,308.97 L459.11,308.68 L461.25,308.67 L463.39,308.93 L465.50,309.48 L467.56,310.29 L469.54,311.36 L471.42,312.67 L473.17,314.22 L474.78,315.97 L476.21,317.91 L477.46,320.01 L478.50,322.25 L479.33,324.60 L479.93,327.02 L480.29,329.50 L480.42,331.99 L480.31,334.46 L479.96,336.89 L479.37,339.25 L478.56,341.50 L477.53,343.61 L476.29,345.56 L474.87,347.33 L473.28,348.90 L471.54,350.23 L469.66,351.32 L452.23,360.04 L450.25,360.87 L448.20,361.44 L446.09,361.73 L443.95,361.74 L441.81,361.47 L439.69,360.93 L437.63,360.12 L435.65,359.05 L433.77,357.73 L432.02,356.19 L430.42,354.43 L428.98,352.49 L427.74,350.39 L426.69,348.15 L425.87,345.81 L425.27,343.38 L424.90,340.91 L424.77,338.42 L424.88,335.94 L425.24,333.51 L425.82,331.16 L426.64,328.91 L427.67,326.79 L428.90,324.84 L430.32,323.07 L431.91,321.51 L433.66,320.17 L435.53,319.08Z" fill="none" stroke-width="2"/>
<path d="M463.92,357.18 L461.69,357.19 L459.45,356.92 L457.23,356.36 L455.06,355.53 L452.96,354.43 L450.95,353.09 L449.06,351.50 L447.30,349.69 L445.71,347.68 L444.28,345.50 L443.05,343.16 L442.03,340.69 L441.22,338.13 L440.63,335.49 L440.28,332.81 L440.16,330.13 L440.28,327.46 L440.64,324.84 L441.23,322.30 L442.04,319.87 L443.07,317.57 L444.31,315.43 L445.73,313.47 L447.33,311.72 L449.09,310.20 L450.99,308.92 L453.00,307.90 L455.10,307.14" fill="none" stroke-width="1.6"/>
<path d="M435.30,319.16 L437.32,318.30 L439.43,317.71 L441.60,317.40 L443.79,317.36 L445.98,317.60 L448.15,318.12 L450.26,318.91 L452.30,319.96 L454.23,321.25 L456.02,322.77 L457.67,324.51 L459.14,326.44 L460.42,328.53 L461.49,330.75 L462.34,333.09 L462.96,335.52 L463.34,337.99 L463.47,340.48 L463.36,342.96 L463.00,345.40 L462.40,347.76 L461.57,350.02 L460.52,352.15 L459.25,354.12 L457.80,355.91 L456.17,357.49 L454.38,358.85 L452.46,359.96 L434.58,368.90 L432.56,369.76 L430.45,370.35 L428.28,370.66 L426.09,370.70 L423.90,370.46 L421.73,369.94 L419.62,369.15 L417.58,368.10 L415.65,366.81 L413.86,365.29 L412.21,363.55 L410.74,361.62 L409.46,359.53 L408.39,357.31 L407.54,354.97 L406.92,352.54 L406.54,350.07 L406.41,347.58 L406.52,345.10 L406.88,342.66 L407.48,340.30 L408.31,338.04 L409.36,335.91 L410.63,333.94 L412.08,332.15 L413.71,330.57 L415.50,329.21 L417.42,328.10Z" fill="#fff" stroke-width="2"/>
<clipPath id="c6"><path d="M435.30,319.16 L437.32,318.30 L439.43,317.71 L441.60,317.40 L443.79,317.36 L445.98,317.60 L448.15,318.12 L450.26,318.91 L452.30,319.96 L454.23,321.25 L456.02,322.77 L457.67,324.51 L459.14,326.44 L460.42,328.53 L461.49,330.75 L462.34,333.09 L462.96,335.52 L463.34,337.99 L463.47,340.48 L463.36,342.96 L463.00,345.40 L462.40,347.76 L461.57,350.02 L460.52,352.15 L459.25,354.12 L457.80,355.91 L456.17,357.49 L454.38,358.85 L452.46,359.96 L434.58,368.90 L432.56,369.76 L430.45,370.35 L428.28,370.66 L426.09,370.70 L423.90,370.46 L421.73,369.94 L419.62,369.15 L417.58,368.10 L415.65,366.81 L413.86,365.29 L412.21,363.55 L410.74,361.62 L409.46,359.53 L408.39,357.31 L407.54,354.97 L406.92,352.54 L406.54,350.07 L406.41,347.58 L406.52,345.10 L406.88,342.66 L407.48,340.30 L408.31,338.04 L409.36,335.91 L410.63,333.94 L412.08,332.15 L413.71,330.57 L415.50,329.21 L417.42,328.10Z"/></clipPath><polygon clip-path="url(#c6)" fill="#e2e2e2" stroke="none" points="354.9,385.2 498.0,313.6 533.8,385.2 390.7,456.7"/>
<path d="M435.30,319.16 L437.32,318.30 L439.43,317.71 L441.60,317.40 L443.79,317.36 L445.98,317.60 L448.15,318.12 L450.26,318.91 L452.30,319.96 L454.23,321.25 L456.02,322.77 L457.67,324.51 L459.14,326.44 L460.42,328.53 L461.49,330.75 L462.34,333.09 L462.96,335.52 L463.34,337.99 L463.47,340.48 L463.36,342.96 L463.00,345.40 L462.40,347.76 L461.57,350.02 L460.52,352.15 L459.25,354.12 L457.80,355.91 L456.17,357.49 L454.38,358.85 L452.46,359.96 L434.58,368.90 L432.56,369.76 L430.45,370.35 L428.28,370.66 L426.09,370.70 L423.90,370.46 L421.73,369.94 L419.62,369.15 L417.58,368.10 L415.65,366.81 L413.86,365.29 L412.21,363.55 L410.74,361.62 L409.46,359.53 L408.39,357.31 L407.54,354.97 L406.92,352.54 L406.54,350.07 L406.41,347.58 L406.52,345.10 L406.88,342.66 L407.48,340.30 L408.31,338.04 L409.36,335.91 L410.63,333.94 L412.08,332.15 L413.71,330.57 L415.50,329.21 L417.42,328.10Z" fill="none" stroke-width="2"/>
<path d="M440.01,317.60 L442.13,317.37 L444.27,317.42 L446.40,317.74 L448.51,318.34 L450.56,319.21 L452.52,320.33 L454.37,321.70 L456.09,323.29 L457.66,325.08 L459.06,327.06 L460.26,329.19 L461.26,331.46 L462.04,333.82 L462.59,336.26 L462.91,338.74 L462.98,341.23 L462.82,343.70 L462.42,346.12 L461.78,348.45 L460.92,350.67 L459.85,352.76 L458.57,354.67 L457.11,356.40 L455.49,357.91 L453.72,359.20 L451.82,360.24 L449.82,361.01 L447.75,361.52" fill="none" stroke-width="2.6"/>
<ellipse cx="426.00" cy="348.50" rx="19.8" ry="22.5" transform="rotate(-10 426.00 348.50)" fill="#fff" stroke-width="1.5"/>
<ellipse cx="426.20" cy="348.40" rx="17.6" ry="20.3" transform="rotate(-10 426.20 348.40)" fill="none" stroke-width="4.6"/>
<path d="M427.55,328.60 L429.21,328.90 L430.84,329.38 L432.43,330.04 L433.97,330.87 L435.44,331.87 L436.83,333.01 L438.12,334.30 L439.30,335.72 L440.36,337.26 L441.29,338.90 L442.09,340.63 L442.73,342.43 L443.23,344.28 L443.57,346.17 L443.76,348.08 L443.78,350.00 L443.64,351.89 L443.34,353.76 L442.88,355.57 L442.27,357.31 L441.51,358.98 L440.62,360.54 L439.59,361.99 L438.44,363.30 L437.18,364.48 L435.81,365.51 L434.37,366.38 L432.84,367.08" fill="none" stroke="#fff" stroke-width="0.9" stroke-dasharray="3.2 0.9"/>
<ellipse cx="426.50" cy="348.20" rx="15.5" ry="18.2" transform="rotate(-10 426.50 348.20)" fill="#000" stroke-width="1"/>
<path d="M425.28,331.10 L426.92,331.09 L428.57,331.30 L430.19,331.72 L431.78,332.34 L433.30,333.17 L434.75,334.18 L436.09,335.37 L437.33,336.72 L438.43,338.22 L439.39,339.84 L440.20,341.56 L440.83,343.37 L441.30,345.24 L441.58,347.15 L441.68,349.07 L441.60,350.98 L441.33,352.86 L440.89,354.67 L440.26,356.41 L439.48,358.04 L438.53,359.55 L437.44,360.91 L436.22,362.12 L434.88,363.15 L433.44,363.99 L431.92,364.63 L430.34,365.07 L428.72,365.30" fill="none" stroke="#fff" stroke-width="1.6" stroke-dasharray="4 0.8"/>
<ellipse cx="426.50" cy="348.20" rx="13.5" ry="16.2" transform="rotate(-10 426.50 348.20)" fill="none" stroke="#fff" stroke-width="0.5" stroke-dasharray="1 2.5"/>
<ellipse cx="427.00" cy="347.80" rx="9.5" ry="11.5" transform="rotate(-10 427.00 347.80)" fill="none" stroke="#fff" stroke-width="0.5" stroke-dasharray="0.8 3"/>
<path d="M415.5,346 Q417.5,339.5 423.5,339.5 L429.5,342.5 Q431.5,348 429.5,353 L425,357 L418.5,357.5 Q415,352 415.5,346 Z" fill="#fff" stroke="none"/>
<path d="M420,345 l3,-1.5 l2.5,1.5 M423,348 l3.5,0.5 l-0.5,3.5 M419.5,350 l2,2" fill="none" stroke="#000" stroke-width="1.5"/>
<circle cx="414" cy="346" r="0.7" fill="#fff" stroke="none"/>
<circle cx="414.5" cy="340.5" r="0.7" fill="#fff" stroke="none"/>
<circle cx="419" cy="336.5" r="0.7" fill="#fff" stroke="none"/>
<circle cx="432" cy="338" r="0.7" fill="#fff" stroke="none"/>
<circle cx="436" cy="345" r="0.7" fill="#fff" stroke="none"/>
<circle cx="434" cy="357" r="0.7" fill="#fff" stroke="none"/>
<circle cx="416" cy="360" r="0.7" fill="#fff" stroke="none"/>
<line x1="425" y1="353.5" x2="408" y2="366" stroke-width="9" stroke-linecap="round"/>
<line x1="424" y1="351" x2="409.5" y2="361.8" stroke="#fff" stroke-width="1" stroke-dasharray="2.5 1"/>
<line x1="425.5" y1="354.5" x2="411" y2="365.2" stroke="#bbb" stroke-width="0.8" stroke-dasharray="2.5 1"/>
<ellipse cx="407.80" cy="366.00" rx="3.2" ry="4.2" transform="rotate(-30 407.80 366.00)" fill="#000" stroke="none"/>
<path d="M406,364 l2.5,-1.5" stroke="#fff" stroke-width="0.8"/>
</g>
<g stroke="#000" stroke-linejoin="round">
<ellipse cx="370.00" cy="376.10" rx="18.3" ry="21" transform="rotate(-12 370.00 376.10)" fill="#fff" stroke-width="2"/>
<path d="M373,384 L387,380 L386,392 L375,398 L364,397 Z" fill="#e6e6e6" stroke="none"/>
<ellipse cx="370.00" cy="376.10" rx="18.3" ry="21" transform="rotate(-12 370.00 376.10)" fill="none" stroke-width="2"/>
<path d="M369.05,356.81 L370.61,356.89 L372.17,357.13 L373.71,357.54 L375.22,358.11 L376.69,358.84 L378.10,359.71 L379.45,360.74 L380.71,361.89 L381.88,363.17 L382.95,364.56 L383.90,366.06 L384.74,367.64 L385.45,369.29 L386.02,371.01 L386.46,372.77 L386.76,374.56 L386.91,376.36 L386.92,378.16 L386.77,379.94 L386.49,381.69 L386.06,383.39 L385.50,385.02 L384.80,386.58 L383.97,388.04 L383.02,389.41 L381.96,390.65 L380.80,391.77 L379.54,392.75" fill="none" stroke-width="0.9"/>
<path d="M367.86,395.11 L366.44,394.76 L365.04,394.27 L363.67,393.64 L362.35,392.88 L361.08,391.99 L359.88,390.98 L358.75,389.87 L357.70,388.64 L356.75,387.33 L355.89,385.93 L355.14,384.45 L354.50,382.92 L353.97,381.33 L353.56,379.71 L353.27,378.06 L353.11,376.40 L353.07,374.73 L353.16,373.08 L353.37,371.45 L353.71,369.86 L354.17,368.32 L354.75,366.84 L355.43,365.43 L356.23,364.11 L357.13,362.87 L358.12,361.74 L359.20,360.72 L360.36,359.82" fill="none" stroke-width="2"/>
<ellipse cx="364.50" cy="379.20" rx="11.8" ry="13.6" transform="rotate(-12 364.50 379.20)" fill="#fff" stroke-width="3"/>
<ellipse cx="365.00" cy="379.00" rx="9.2" ry="11.2" transform="rotate(-12 365.00 379.00)" fill="none" stroke-width="1.2"/>
<path d="M363.5,360.5 L370.5,362 L370,365.5 L363,364 Z" fill="#fff" stroke-width="1.4"/>
<path d="M378,369 L384.5,370 L384.5,374 L378,373.5 Z M377.6,387.5 L384,386 L383.5,391 L377.5,392 Z" fill="#000" stroke-width="1"/>
<path d="M366,394.5 l4,1.2" stroke-width="1.4"/>
</g>
<g stroke="#000" stroke-linejoin="round">
<path d="M320.75,372.36 L322.96,371.43 L325.25,370.81 L327.61,370.50 L330.00,370.50 L332.40,370.82 L334.77,371.44 L337.08,372.37 L339.31,373.59 L341.43,375.09 L343.40,376.84 L345.21,378.82 L346.84,381.02 L348.25,383.40 L349.44,385.93 L350.39,388.58 L351.08,391.32 L351.52,394.11 L351.69,396.92 L351.59,399.71 L351.22,402.45 L350.58,405.10 L349.70,407.62 L348.57,410.00 L347.21,412.20 L345.63,414.18 L343.87,415.93 L341.93,417.42 L339.85,418.64 L301.05,438.04 L298.84,438.97 L296.55,439.59 L294.19,439.90 L291.80,439.90 L289.40,439.58 L287.03,438.96 L284.72,438.03 L282.49,436.81 L280.37,435.31 L278.40,433.56 L276.59,431.58 L274.96,429.38 L273.55,427.00 L272.36,424.47 L271.41,421.82 L270.72,419.08 L270.28,416.29 L270.11,413.48 L270.21,410.69 L270.58,407.95 L271.22,405.30 L272.10,402.78 L273.23,400.40 L274.59,398.20 L276.17,396.22 L277.93,394.47 L279.87,392.98 L281.95,391.76Z" fill="#fff" stroke-width="2"/>
<clipPath id="trc"><path d="M320.75,372.36 L322.96,371.43 L325.25,370.81 L327.61,370.50 L330.00,370.50 L332.40,370.82 L334.77,371.44 L337.08,372.37 L339.31,373.59 L341.43,375.09 L343.40,376.84 L345.21,378.82 L346.84,381.02 L348.25,383.40 L349.44,385.93 L350.39,388.58 L351.08,391.32 L351.52,394.11 L351.69,396.92 L351.59,399.71 L351.22,402.45 L350.58,405.10 L349.70,407.62 L348.57,410.00 L347.21,412.20 L345.63,414.18 L343.87,415.93 L341.93,417.42 L339.85,418.64 L301.05,438.04 L298.84,438.97 L296.55,439.59 L294.19,439.90 L291.80,439.90 L289.40,439.58 L287.03,438.96 L284.72,438.03 L282.49,436.81 L280.37,435.31 L278.40,433.56 L276.59,431.58 L274.96,429.38 L273.55,427.00 L272.36,424.47 L271.41,421.82 L270.72,419.08 L270.28,416.29 L270.11,413.48 L270.21,410.69 L270.58,407.95 L271.22,405.30 L272.10,402.78 L273.23,400.40 L274.59,398.20 L276.17,396.22 L277.93,394.47 L279.87,392.98 L281.95,391.76Z"/></clipPath>
<polygon clip-path="url(#trc)" fill="#e2e2e2" stroke="none" points="268,442 309,419 318,402 362,382 362,470 268,470"/>
<path d="M320.75,372.36 L322.96,371.43 L325.25,370.81 L327.61,370.50 L330.00,370.50 L332.40,370.82 L334.77,371.44 L337.08,372.37 L339.31,373.59 L341.43,375.09 L343.40,376.84 L345.21,378.82 L346.84,381.02 L348.25,383.40 L349.44,385.93 L350.39,388.58 L351.08,391.32 L351.52,394.11 L351.69,396.92 L351.59,399.71 L351.22,402.45 L350.58,405.10 L349.70,407.62 L348.57,410.00 L347.21,412.20 L345.63,414.18 L343.87,415.93 L341.93,417.42 L339.85,418.64 L301.05,438.04 L298.84,438.97 L296.55,439.59 L294.19,439.90 L291.80,439.90 L289.40,439.58 L287.03,438.96 L284.72,438.03 L282.49,436.81 L280.37,435.31 L278.40,433.56 L276.59,431.58 L274.96,429.38 L273.55,427.00 L272.36,424.47 L271.41,421.82 L270.72,419.08 L270.28,416.29 L270.11,413.48 L270.21,410.69 L270.58,407.95 L271.22,405.30 L272.10,402.78 L273.23,400.40 L274.59,398.20 L276.17,396.22 L277.93,394.47 L279.87,392.98 L281.95,391.76Z" fill="none" stroke-width="2"/>
<ellipse cx="291.50" cy="414.90" rx="21.2" ry="25.2" transform="rotate(-12 291.50 414.90)" fill="none" stroke-width="2.1"/>
<clipPath id="trh"><ellipse cx="285.2" cy="418.2" rx="11.2" ry="13.3" transform="rotate(-12 285.2 418.2)"/></clipPath>
<ellipse cx="285.20" cy="418.20" rx="11.2" ry="13.3" transform="rotate(-12 285.20 418.20)" fill="#fff" stroke="none"/>
<polygon clip-path="url(#trh)" fill="#e2e2e2" stroke="none" points="270,400 300,400 300,408 272,423"/>
<ellipse cx="285.20" cy="418.20" rx="11.2" ry="13.3" transform="rotate(-12 285.20 418.20)" fill="none" stroke-width="2"/>
<path d="M286.59,430.92 L285.94,430.89 L285.28,430.82 L284.63,430.70 L283.98,430.53 L283.34,430.32 L282.71,430.06 L282.09,429.76 L281.49,429.41 L280.90,429.02 L280.33,428.59 L279.78,428.11 L279.26,427.61 L278.76,427.06 L278.29,426.49 L277.85,425.88 L277.44,425.24 L277.06,424.58 L276.71,423.89 L276.40,423.19 L276.13,422.46 L275.89,421.72 L275.70,420.97 L275.54,420.20 L275.42,419.43 L275.34,418.66 L275.30,417.89 L275.31,417.12 L275.35,416.35" fill="none" stroke-width="1.2"/>
</g>
<g stroke="#000" stroke-linejoin="round">
<path d="M93.9,433.9 L210.5,373.5 C213,372.6 215,373.8 217.4,373.7 C224,373.2 231.5,380 231.5,389 C231.5,395 229,400 226.5,402.2 L117,450.7 L108.5,455 Z" fill="#fff" stroke-width="2"/>
<clipPath id="spc"><path d="M93.9,433.9 L210.5,373.5 C213,372.6 215,373.8 217.4,373.7 C224,373.2 231.5,380 231.5,389 C231.5,395 229,400 226.5,402.2 L117,450.7 L108.5,455 Z"/></clipPath>
<polygon clip-path="url(#spc)" fill="#e2e2e2" stroke="none" points="96,449.6 229,380.2 240,400 240,460 96,470"/>
<path d="M93.9,433.9 L210.5,373.5 C213,372.6 215,373.8 217.4,373.7 C224,373.2 231.5,380 231.5,389 C231.5,395 229,400 226.5,402.2 L117,450.7 L108.5,455 Z" fill="none" stroke-width="2"/>
<ellipse cx="98.40" cy="446.50" rx="11.2" ry="12.7" transform="rotate(-15 98.40 446.50)" fill="#fff" stroke-width="2.2"/>
<ellipse cx="97.30" cy="447.00" rx="8.4" ry="10" transform="rotate(-15 97.30 447.00)" fill="#fff" stroke-width="1.2"/>
<circle cx="96.4" cy="447.1" r="0.6" fill="#000" stroke="none"/>
</g>
<g stroke="#000" fill="#fff">
<rect x="207.3" y="426" width="6.6" height="7.5" rx="2.5" stroke-width="1.6"/>
<path d="M207.8,428.5 Q210.6,430 213.4,428.5" fill="none" stroke-width="1.1"/>
</g>
<g stroke="#000" stroke-linejoin="round">
<path d="M97.6,469 L97.6,474 L96.2,477 L96.2,486 Q107.4,492 118.6,486 L118.6,477 L117.4,474 L117.4,469" fill="#fff" stroke-width="2"/>
<path d="M106,481 L118,481 L118,487 Q112,489.8 106,489.8 Z" fill="#e2e2e2" stroke="none"/>
<path d="M96.2,486 Q107.4,492 118.6,486" fill="none" stroke-width="2.2"/>
<path d="M97.2,474.6 Q107.4,479.6 117.8,474.6" fill="none" stroke-width="2.4"/>
<path d="M96.6,477.4 Q107.4,482.4 118.2,477.4" fill="none" stroke-width="1.4"/>
<ellipse cx="107.50" cy="469.00" rx="9.9" ry="3.3" fill="#fff" stroke-width="2.2"/>
<ellipse cx="107.50" cy="469.30" rx="7.8" ry="2.2" fill="#222" stroke="none"/>
<path d="M103,469.3 L112,469.3" stroke="#fff" stroke-width="2.6" stroke-dasharray="1.3 0.8" fill="none"/>
<circle cx="100" cy="469.3" r="0.9" fill="#fff" stroke="none"/><circle cx="115" cy="469.3" r="0.9" fill="#fff" stroke="none"/>
<path d="M98.2,505.7 L98.2,510.5 L97.2,511.5 L97.2,517 Q107.4,522.5 117.6,517 L117.6,511.5 L116.6,510.5 L116.6,505.7" fill="#fff" stroke-width="2"/>
<path d="M108,514 L117,514 L117,517 Q112,519.5 108,519.5 Z" fill="#e2e2e2" stroke="none"/>
<path d="M97.5,511.2 Q107.4,516 117.3,511.2" fill="none" stroke-width="1.8"/>
<path d="M97.5,517.5 Q107.4,522.5 117.3,517.5" fill="none" stroke-width="2.6"/>
<ellipse cx="99" cy="518.6" rx="1.9" ry="1.5" fill="#000" stroke="none"/>
<ellipse cx="103.2" cy="520.4" rx="1.9" ry="1.5" fill="#000" stroke="none"/>
<ellipse cx="107.5" cy="521" rx="1.9" ry="1.5" fill="#000" stroke="none"/>
<ellipse cx="111.8" cy="520.4" rx="1.9" ry="1.5" fill="#000" stroke="none"/>
<ellipse cx="115.8" cy="518.6" rx="1.9" ry="1.5" fill="#000" stroke="none"/>
<ellipse cx="107.40" cy="505.70" rx="9.3" ry="3" fill="#fff" stroke-width="2.1"/>
</g>
<g stroke="#000" stroke-linejoin="round">
<path d="M14.6,622 L14.6,572 C14,566 10,563 6,557 C1.5,550 0.8,540 3,532 C6,524 12,520 20,519.5 C24,517 28,514 33.5,513.5 C45,513 56.5,525 57,540 C57.5,550 53,557 46,562 C41,565 33,566 31.5,572 L31.2,622 C31.2,632.8 14.6,632.8 14.6,622 Z" fill="#fff" stroke-width="2"/>
<path d="M41,530 C46,528.5 51,527.5 52.5,528.5 C56,536 56.5,546 53,554 C50,559 47,561 39.5,563 C43.5,556 44,540 41,530 Z" fill="#e2e2e2" stroke="none"/>
<path d="M14.6,622 L14.6,572 C14,566 10,563 6,557 C1.5,550 0.8,540 3,532 C6,524 12,520 20,519.5 C24,517 28,514 33.5,513.5 C45,513 56.5,525 57,540 C57.5,550 53,557 46,562 C41,565 33,566 31.5,572 L31.2,622 C31.2,632.8 14.6,632.8 14.6,622 Z" fill="none" stroke-width="2"/>
<path d="M7,527 C11,522 16,520.5 21,520.5 C32,520.5 40,532 40.5,546 C40.8,553 37.5,559 33,563 C30,566 27.8,569 27.6,574 L27.5,622 C27.5,627.5 25,629.5 21.5,629.8" fill="none" stroke-width="1.2"/>
<path d="M10,523.5 C14,520.8 18,519.8 22.5,520 C35,520.5 43.3,533 43.3,546.5 C43.3,554 39.8,560 35,564.5 C32,567.5 29.6,569.5 29.3,574.5 L29.2,622.5 C29.2,628.5 26.5,630.8 22.5,631" fill="none" stroke-width="1.1"/>
</g>
<g stroke="#000" stroke-linejoin="round">
<path d="M42.8,582 Q45.2,578.5 47.7,582 L47.8,590.5 L42.7,590.5 Z" fill="#fff" stroke-width="1.8"/>
<ellipse cx="46.30" cy="592.50" rx="4.4" ry="3" fill="#fff" stroke-width="1.9"/>
<line x1="45.2" y1="582" x2="45.2" y2="590" stroke-width="0.8"/>
<path d="M62,578.5 C64,574.5 70,572.5 74,575 C78,578 78.5,584 76.5,587 C74,591 66,592 62.5,589 C59.5,586.5 59.5,582 62,578.5 Z" fill="#fff" stroke-width="2"/>
<path d="M71,578 C75,578 77,583 75.5,586 C73,589 70,590 68,590 Z" fill="#e2e2e2" stroke="none"/>
<ellipse cx="65.80" cy="584.30" rx="5.2" ry="5.8" transform="rotate(-20 65.80 584.30)" fill="#fff" stroke-width="1.7"/>
<ellipse cx="65.80" cy="584.30" rx="3.8" ry="4.3" transform="rotate(-20 65.80 584.30)" fill="none" stroke-width="1.1"/>
<path d="M64.5,583 l2.5,-0.5 l0.8,2.6 l-2.2,0.8 Z" fill="#000" stroke-width="0.8"/>
<ellipse cx="50.10" cy="610.00" rx="5.2" ry="3.8" fill="#000" stroke-width="1"/>
<circle cx="47.8" cy="609.5" r="1.1" fill="#fff" stroke="none"/>
<circle cx="52.3" cy="609.5" r="1.1" fill="#fff" stroke="none"/>
</g>
</svg>
</body></html>
